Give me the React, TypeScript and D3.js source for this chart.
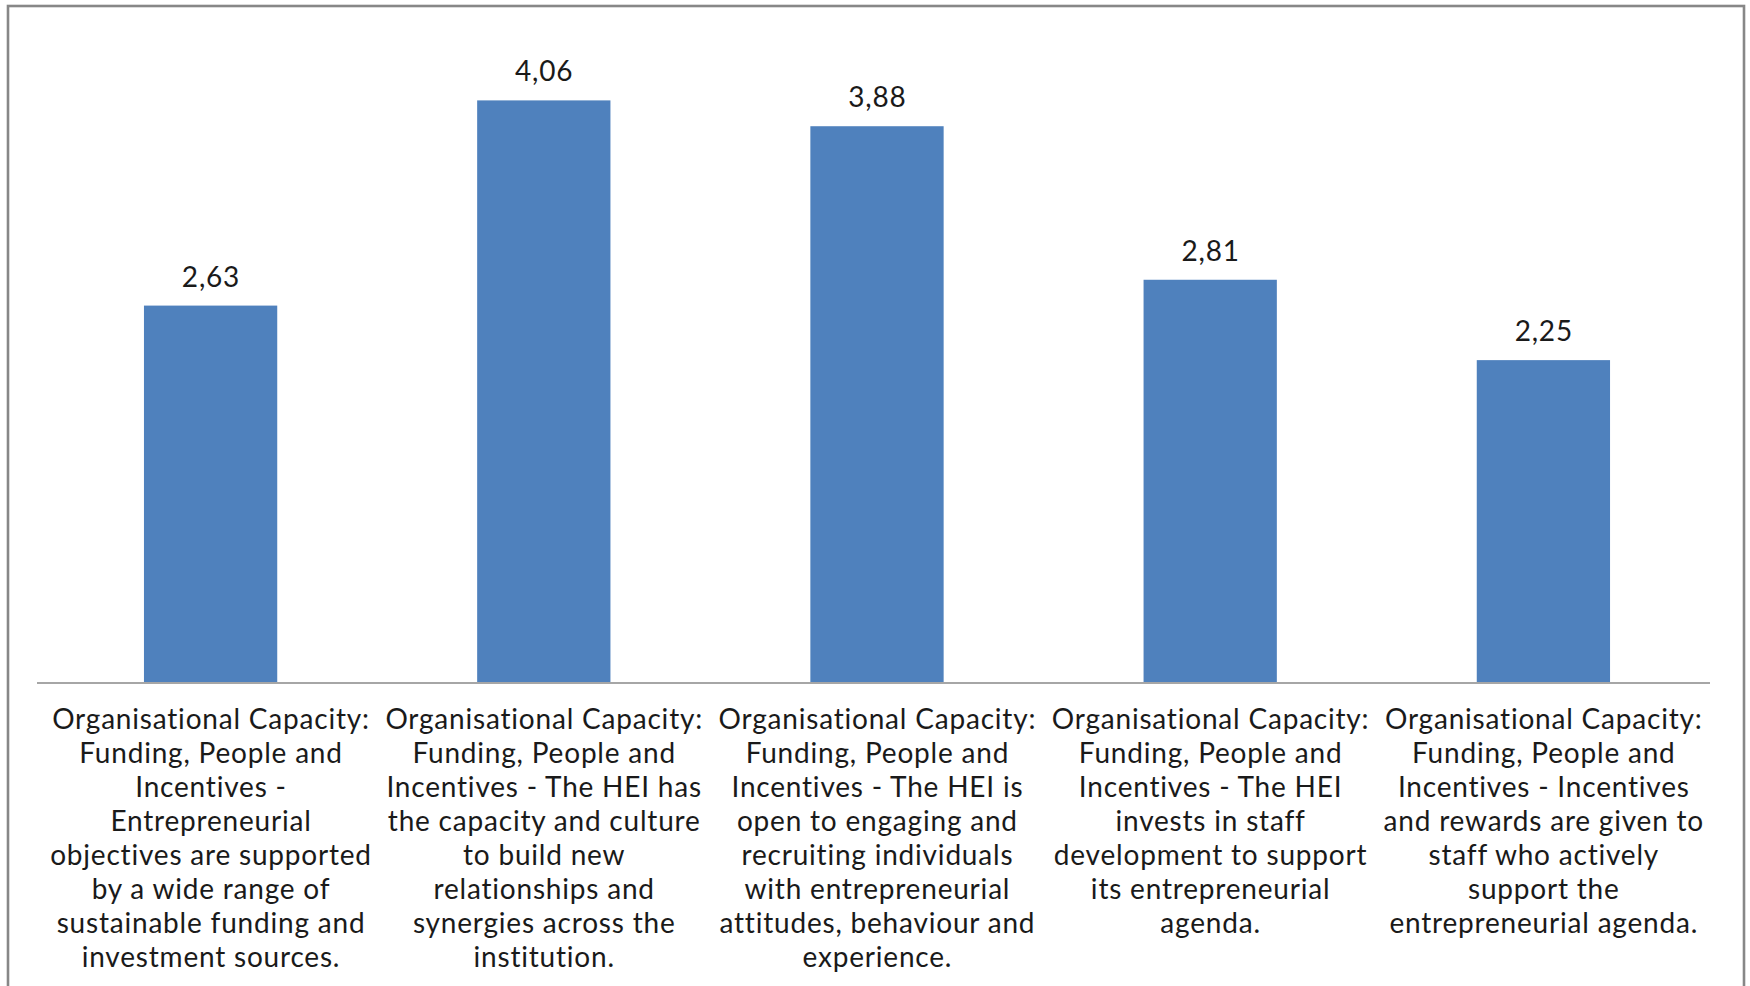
import React from "react";
import * as d3 from "d3";

const categories = ["c1", "c2", "c3", "c4", "c5"];
const values = [2.63, 4.06, 3.88, 2.81, 2.25];
const valueLabels = ["2,63", "4,06", "3,88", "2,81", "2,25"];
const categoryLabels: string[][] = [
  ["Organisational Capacity:", "Funding, People and", "Incentives -", "Entrepreneurial", "objectives are supported", "by a wide range of", "sustainable funding and", "investment sources."],
  ["Organisational Capacity:", "Funding, People and", "Incentives - The HEI has", "the capacity and culture", "to build new", "relationships and", "synergies across the", "institution."],
  ["Organisational Capacity:", "Funding, People and", "Incentives - The HEI is", "open to engaging and", "recruiting individuals", "with entrepreneurial", "attitudes, behaviour and", "experience."],
  ["Organisational Capacity:", "Funding, People and", "Incentives - The HEI", "invests in staff", "development to support", "its entrepreneurial", "agenda."],
  ["Organisational Capacity:", "Funding, People and", "Incentives - Incentives", "and rewards are given to", "staff who actively", "support the", "entrepreneurial agenda."],
];
const yDomain = [0, 4.5];

const W = 1750;
const H = 986;
const FONT = "Lato, 'Open Sans', sans-serif";

export default function App() {
  const x = d3.scaleBand<string>().domain(categories).range([44, 1710]).paddingInner(0.6).paddingOuter(0.3);
  const y = d3.scaleLinear().domain(yDomain).range([683, 37.25]);
  const bw = x.bandwidth();
  const ls = 0.8;

  return (
    <svg width={W} height={H} style={{ position: "absolute", left: 0, top: 0, background: "#fff" }}>
      <rect x={0} y={0} width={W} height={H} fill="#fff" />
      <rect x={8} y={6} width={1736} height={1000} fill="none" stroke="#878787" strokeWidth={2.6} />
      {categories.map((c, i) => (
        <rect key={c} x={x(c)} y={y(values[i])} width={bw} height={y(0) - y(values[i])} fill="#4F81BD" />
      ))}
      <line x1={37} x2={1710} y1={y(0)} y2={y(0)} stroke="#A6A6A6" strokeWidth={2} />
      {categories.map((c, i) => (
        <text key={"v" + c} x={(x(c) as number) + bw / 2 + ls / 2} y={y(values[i]) - 19} textAnchor="middle"
          fontFamily={FONT} fontSize={28} letterSpacing={ls} fill="#1a1a1a">{valueLabels[i]}</text>
      ))}
      {categories.map((c, i) => (
        <text key={"l" + c} textAnchor="middle" fontFamily={FONT} fontSize={28} letterSpacing={ls} fill="#1a1a1a">
          {categoryLabels[i].map((ln, j) => (
            <tspan key={j} x={(x(c) as number) + bw / 2 + ls / 2} y={729 + j * 34}>{ln}</tspan>
          ))}
        </text>
      ))}
    </svg>
  );
}
